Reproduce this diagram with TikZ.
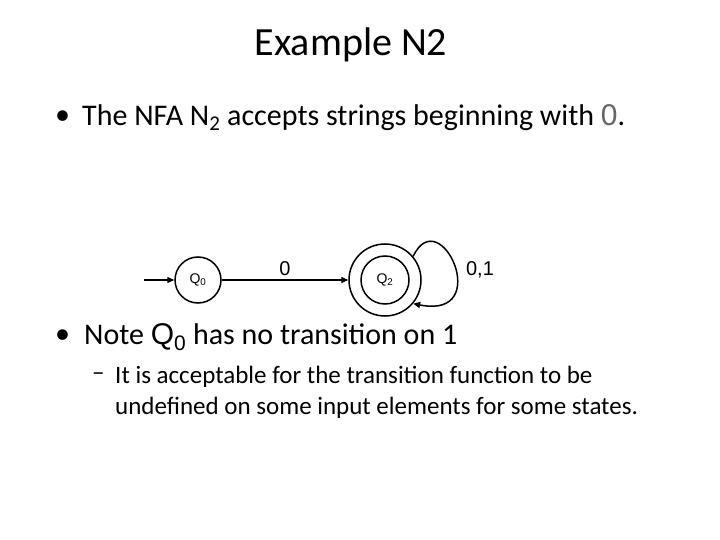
\documentclass[tikz,border=0pt]{standalone}
\usepackage{fontspec}
\setmainfont{Carlito}
\newfontfamily\arial{Liberation Sans}
\usetikzlibrary{arrows.meta}
\begin{document}
\begin{tikzpicture}[x=1pt,y=-1pt,
  st/.style={circle,draw,line width=1.5pt,minimum size=46pt,inner sep=0pt,font=\arial\fontsize{14}{16}\selectfont},
  edge/.style={line width=1.5pt,-{Triangle[length=7pt,width=6pt]}},
  txt/.style={anchor=west,inner sep=0pt}]
\useasboundingbox (0,0) rectangle (720,540);
\node[inner sep=0pt] (title) at (351,45) {\fontsize{40}{44}\selectfont Example N2};
\node[txt] (d1) at (55,118) {\fontsize{30}{34}\selectfont •};
\node[txt] (b1) at (82,118) {\fontsize{30}{34}\selectfont The NFA N\textsubscript{2} accepts strings beginning with {\arial\color{black!60}0}.};
\node[st] (q0) at (198,280) {Q\textsubscript{0}};
\node[st,minimum size=48pt] (q2) at (385,280) {Q\textsubscript{2}};
\node[circle,draw,line width=1.5pt,minimum size=72pt] (q2o) at (385,280) {};
\coordinate (start) at (144,280);
\draw[edge] (start) -- (q0);
\draw[edge] (q0) -- node[above=0pt,font=\arial\fontsize{20}{22}\selectfont] {0} (q2o);
\draw[edge] (q2o.40) .. controls (440,200) and (495,320) .. (q2o.-40);
\node[font=\arial\fontsize{20}{22}\selectfont] (lab) at (480,270) {0,1};
\node[txt] (d2) at (55,337) {\fontsize{30}{34}\selectfont •};
\node[txt] (b2) at (84,337) {\fontsize{30}{34}\selectfont Note {\arial\fontsize{30}{34}\selectfont Q\textsubscript{0}} has no transition on 1};
\node[txt] (d3) at (92,377) {\fontsize{25}{30}\selectfont –};
\node[txt] (b3) at (115,377) {\fontsize{25}{30}\selectfont It is acceptable for the transition function to be};
\node[txt] (b4) at (115,408) {\fontsize{25}{30}\selectfont undefined on some input elements for some states.};
\end{tikzpicture}
\end{document}
